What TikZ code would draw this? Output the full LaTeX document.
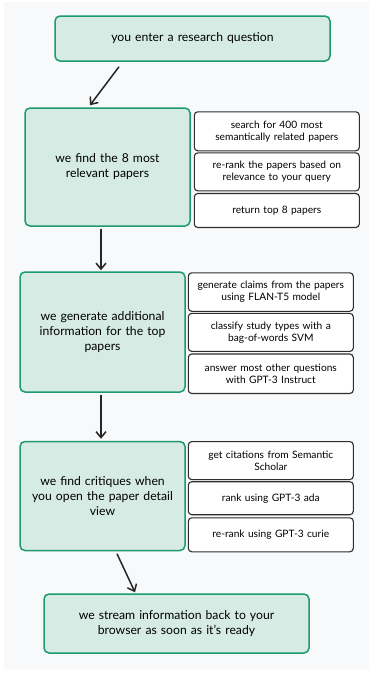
\documentclass[tikz,border=0pt]{standalone}
\usepackage{fontspec}
\setmainfont{Lato}
\usepackage{xcolor}
\usepackage{tikz}
\usetikzlibrary{arrows.meta,positioning,calc}

\definecolor{stepfill}{HTML}{D5EBE3}
\definecolor{stepline}{HTML}{1B9B6E}
\definecolor{subline}{HTML}{2E2E2E}
\definecolor{panel}{HTML}{F8F9FA}

\begin{document}
\begin{tikzpicture}[
  x=1pt, y=-1pt,
  stepbox/.style={rectangle, rounded corners=5pt, draw=stepline, line width=1.5pt,
              fill=stepfill, align=center, font=\fontsize{12.2}{15}\selectfont,
              inner sep=0pt, text width=#1},
  stepbox/.default=160pt,
  subbox/.style={rectangle, rounded corners=3.5pt, draw=subline, line width=1.1pt,
              fill=white, align=center, font=\fontsize{10.2}{12}\selectfont,
              minimum width=165pt, text width=162pt, inner sep=0pt},
  flow/.style={-{Straight Barb[length=6pt,width=10pt]}, line width=1.5pt, black!85}
]
  \useasboundingbox (0,0) rectangle (369,673);
  \fill[panel] (4,2) rectangle (369,669);

  % main steps
  \node[stepbox=260pt, minimum width=275pt, minimum height=45pt]  (ask)  at (192.5,38.5) {you enter a research question};
  \node[stepbox, minimum width=165pt, minimum height=118pt] (find) at (107.5,167) {we find the 8 most\\relevant papers};
  \node[stepbox, minimum width=165pt, minimum height=120pt] (gen)  at (102.5,332) {we generate additional\\information for the top\\papers};
  \node[stepbox, minimum width=165pt, minimum height=109pt] (crit) at (102.5,496) {we find critiques when\\you open the paper detail\\view};
  \node[stepbox=255pt, minimum width=265pt, minimum height=59pt] (stream) at (176.5,623.5) {we stream information back to your\\browser as soon as it's ready};

  % details next to each step
  \node[subbox, minimum height=39pt, anchor=north west] (find1) at ($(find.north east)+(3,4)$) {search for 400 most\\semantically related papers};
  \node[subbox, minimum height=38pt, below=1pt of find1] (find2) {re-rank the papers based on\\relevance to your query};
  \node[subbox, minimum height=34pt, below=1.5pt of find2] (find3) {return top 8 papers};

  \node[subbox, minimum height=38.5pt, anchor=north west] (gen1) at ($(gen.north east)+(2,1)$) {generate claims from the papers\\using FLAN-T5 model};
  \node[subbox, minimum height=38pt, below=1pt of gen1] (gen2) {classify study types with a\\bag-of-words SVM};
  \node[subbox, minimum height=39.5pt, below=1.5pt of gen2] (gen3) {answer most other questions\\with GPT-3 Instruct};

  \node[subbox, minimum height=38pt, anchor=north west] (crit1) at ($(crit.north east)+(2,0.3)$) {get citations from Semantic\\Scholar};
  \node[subbox, minimum height=33pt, below=1pt of crit1] (crit2) {rank using GPT-3 ada};
  \node[subbox, minimum height=34pt, below=2pt of crit2] (crit3) {re-rank using GPT-3 curie};

  % arrows between steps
  \draw[flow] ($(ask.south)+(-73.5,5)$) -- ($(find.north)+(-17.5,-2)$);
  \draw[flow] ($(find.south)+(-6.5,2)$) -- ($(gen.north)+(-1.5,-1)$);
  \draw[flow] ($(gen.south)+(-1.5,2)$) -- ($(crit.north)+(-1.5,-2)$);
  \draw[flow] ($(crit.south)+(14.5,2.5)$) -- ($(stream.north)+(-41.5,-1)$);
\end{tikzpicture}
\end{document}
